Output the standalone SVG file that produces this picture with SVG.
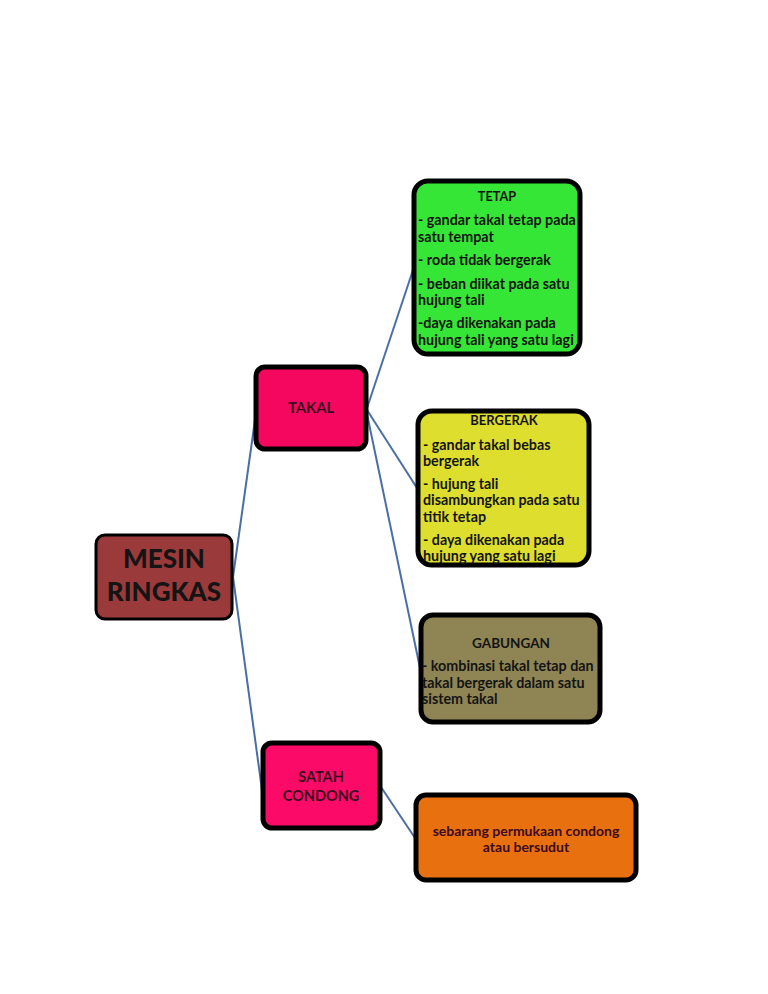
<svg xmlns="http://www.w3.org/2000/svg" width="768" height="994" viewBox="0 0 768 994">
<style>
.box{stroke:#000;stroke-width:5}
.t{font-family:Lato,"Open Sans","Liberation Sans",sans-serif;font-weight:bold;font-size:14.3px;fill:#141414}
.c{text-anchor:middle}
.p{fill:#3c0a1e}
.con{fill:none;stroke:#4a6fa5;stroke-width:2}
</style>
<rect width="768" height="994" fill="#fff"/>
<g id="connectors">
<path class="con" d="M233,577 Q244,500 255,420"/>
<path class="con" d="M233,577 Q248,690 262,790"/>
<path class="con" d="M367,408 L413,270"/>
<path class="con" d="M367,410 L417,488"/>
<path class="con" d="M367,414 L420,668"/>
<path class="con" d="M381,787 L415,838"/>
</g>
<g id="mesin">
<rect x="96" y="535" width="136" height="84" rx="9" fill="#9b3a3a" stroke="#000" stroke-width="3"/>
<text class="t c" x="164" y="568" style="font-size:26px;font-weight:900" fill="#1a0a0a">MESIN</text>
<text class="t c" x="164" y="601" style="font-size:26px;font-weight:900" fill="#1a0a0a">RINGKAS</text>
</g>
<g id="takal">
<rect class="box" x="256" y="367" width="110" height="82" rx="9" fill="#f5075f"/>
<text class="t c p" x="311" y="413" style="font-size:14.8px">TAKAL</text>
</g>
<g id="satah">
<rect class="box" x="263" y="743" width="117" height="85" rx="9" fill="#fb0a68"/>
<text class="t c p" x="321" y="782" style="font-size:14.5px">SATAH</text>
<text class="t c p" x="321" y="801" style="font-size:14.5px">CONDONG</text>
</g>
<g id="tetap">
<rect class="box" x="414" y="181" width="166" height="173" rx="14" fill="#36e636"/>
<text class="t c" x="497" y="201" style="font-size:12.7px">TETAP</text>
<text class="t" x="418" y="225">- gandar takal tetap pada</text>
<text class="t" x="418" y="242">satu tempat</text>
<text class="t" x="418" y="265">- roda tidak bergerak</text>
<text class="t" x="418" y="289">- beban diikat pada satu</text>
<text class="t" x="418" y="305">hujung tali</text>
<text class="t" x="418" y="328">-daya dikenakan pada</text>
<text class="t" x="418" y="345">hujung tali yang satu lagi</text>
</g>
<g id="bergerak">
<rect class="box" x="418" y="411" width="171" height="154" rx="14" fill="#dede2e"/>
<text class="t c" x="504" y="425" style="font-size:13px">BERGERAK</text>
<text class="t" x="423" y="450">- gandar takal bebas</text>
<text class="t" x="423" y="466">bergerak</text>
<text class="t" x="423" y="489">- hujung tali</text>
<text class="t" x="423" y="505">disambungkan pada satu</text>
<text class="t" x="423" y="522">titik tetap</text>
<text class="t" x="423" y="545">- daya dikenakan pada</text>
<text class="t" x="423" y="561">hujung yang satu lagi</text>
</g>
<g id="gabungan">
<rect class="box" x="421" y="615" width="179" height="107" rx="12" fill="#8e8454"/>
<text class="t c" x="511" y="648" style="font-size:13.5px">GABUNGAN</text>
<text class="t" x="422" y="671">- kombinasi takal tetap dan</text>
<text class="t" x="422" y="688">takal bergerak dalam satu</text>
<text class="t" x="422" y="704">sistem takal</text>
</g>
<g id="sebarang">
<rect class="box" x="416" y="795" width="220" height="85" rx="10" fill="#e8700e"/>
<text class="t c p" x="526" y="836" style="font-size:14px">sebarang permukaan condong</text>
<text class="t c p" x="526" y="852" style="font-size:14px">atau bersudut</text>
</g>
</svg>
